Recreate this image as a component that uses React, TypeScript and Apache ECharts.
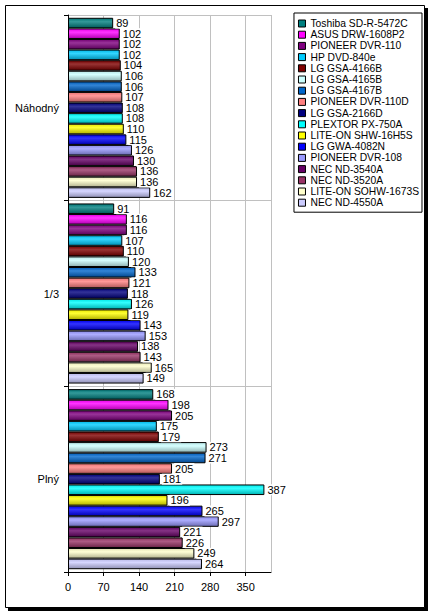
import React, { useEffect, useRef } from "react";
import * as echarts from "echarts";

const categories = ["Náhodný", "1/3", "Plný"];

const drives = [
  "Toshiba SD-R-5472C",
  "ASUS DRW-1608P2",
  "PIONEER DVR-110",
  "HP DVD-840e",
  "LG GSA-4166B",
  "LG GSA-4165B",
  "LG GSA-4167B",
  "PIONEER DVR-110D",
  "LG GSA-2166D",
  "PLEXTOR PX-750A",
  "LITE-ON SHW-16H5S",
  "LG GWA-4082N",
  "PIONEER DVR-108",
  "NEC ND-3540A",
  "NEC ND-3520A",
  "LITE-ON SOHW-1673S",
  "NEC ND-4550A",
];

const colors = [
  "#008080", "#ff00ff", "#800080", "#00ccff", "#800000", "#ccffff",
  "#0066cc", "#ff8080", "#000080", "#00ffff", "#ffff00", "#0000ff",
  "#9999ff", "#660066", "#993366", "#ffffcc", "#ccccff",
];

// values per drive: [Náhodný, 1/3, Plný]
const nahodny = [89, 102, 102, 102, 104, 106, 106, 107, 108, 108, 110, 115, 126, 130, 136, 136, 162];
const tretina = [91, 116, 116, 107, 110, 120, 133, 121, 118, 126, 119, 143, 153, 138, 143, 165, 149];
const plny = [168, 198, 205, 175, 179, 273, 271, 205, 181, 387, 196, 265, 297, 221, 226, 249, 264];

const xTicks = { min: 0, max: 400, interval: 70 };

function mix(hex: string, target: number, amount: number) {
  const n = parseInt(hex.slice(1), 16);
  const ch = [(n >> 16) & 255, (n >> 8) & 255, n & 255].map((c) =>
    Math.round(c + (target - c) * amount)
  );
  return "rgb(" + ch.join(",") + ")";
}

export default function App() {
  const chartRef = useRef<HTMLDivElement>(null);

  useEffect(() => {
    if (!chartRef.current) return;
    document.body.style.margin = "0";
    const chart = echarts.init(chartRef.current, undefined, { renderer: "svg" });

    const font = "Arial, 'Liberation Sans', sans-serif";

    chart.setOption({
      animation: false,
      textStyle: { fontFamily: font },
      graphic: [
        { type: "rect", shape: { x: 8, y: 8, width: 420, height: 603 }, style: { fill: "#000" }, z: -10 },
        { type: "rect", shape: { x: 5.5, y: 5.5, width: 419, height: 602 }, style: { fill: "#fff", stroke: "#000", lineWidth: 1 }, z: -9 },
      ],
      legend: {
        orient: "vertical",
        right: 9,
        top: 13,
        padding: [5, 3, 4, 4],
        itemWidth: 7,
        itemHeight: 7,
        itemGap: 0.2,
        itemTextGap: 3,
        borderColor: "#000",
        borderWidth: 1,
        backgroundColor: "#fff",
        textStyle: { fontSize: 10.3, color: "#000", lineHeight: 11, fontFamily: font },
        icon: "rect",
        data: drives.map((name, i) => ({
          name,
          itemStyle: { color: colors[i], borderColor: "#000", borderWidth: 1 },
        })),
      },
      grid: { left: 68, top: 15, right: 160, bottom: 43 },
      xAxis: {
        type: "value",
        min: xTicks.min,
        max: xTicks.max,
        interval: xTicks.interval,
        axisLine: { show: true, lineStyle: { color: "#000" } },
        axisTick: { show: true, length: 4, lineStyle: { color: "#000" } },
        axisLabel: { fontSize: 11, color: "#000", margin: 9, showMaxLabel: false },
        splitLine: { show: true, lineStyle: { color: "#c0c0c0" } },
      },
      yAxis: {
        type: "category",
        inverse: true,
        data: categories,
        axisLine: { show: true, lineStyle: { color: "#000" } },
        axisTick: { show: true, length: 4, lineStyle: { color: "#000" } },
        axisLabel: { fontSize: 11, color: "#000", margin: 9 },
        splitLine: { show: true, lineStyle: { color: "#c0c0c0" } },
      },
      series: drives.map((name, i) => ({
        name,
        type: "bar",
        barGap: "0%",
        barCategoryGap: "3%",
        data: [nahodny[i], tretina[i], plny[i]],
        itemStyle: {
          color: new echarts.graphic.LinearGradient(0, 0, 0, 1, [
            { offset: 0, color: mix(colors[i], 0, 0.1) },
            { offset: 0.35, color: mix(colors[i], 255, 0.2) },
            { offset: 1, color: mix(colors[i], 0, 0.3) },
          ]),
          borderColor: "#000",
          borderWidth: 1,
        },
        label: {
          show: true,
          position: "right",
          distance: 2,
          fontSize: 11,
          color: "#000",
          backgroundColor: "#fff",
          padding: [0, 1, 0, 1],
          fontFamily: font,
        },
      })),
    });

    return () => chart.dispose();
  }, []);

  return <div ref={chartRef} style={{ width: 431, height: 615 }} />;
}
